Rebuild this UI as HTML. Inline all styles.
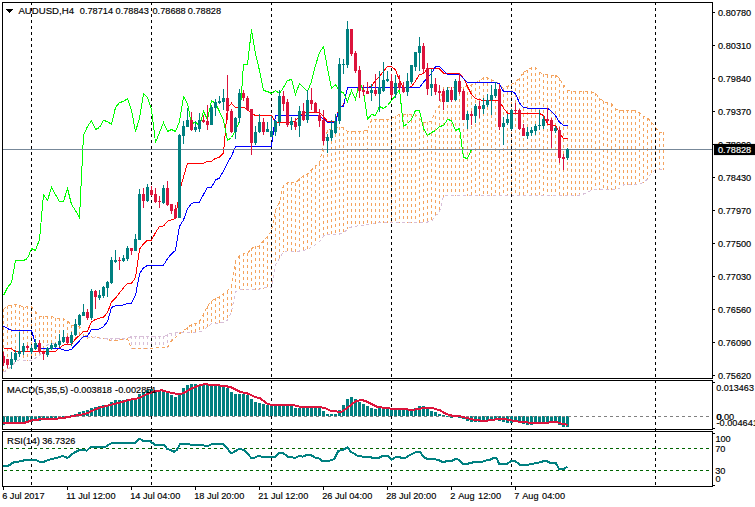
<!DOCTYPE html>
<html><head><meta charset="utf-8"><title>AUDUSD,H4</title>
<style>html,body{margin:0;padding:0;background:#fff;overflow:hidden}svg{display:block}</style>
</head><body>
<svg width="755" height="507" viewBox="0 0 755 507" shape-rendering="crispEdges">
<rect width="755" height="507" fill="#fff"/>
<defs><clipPath id="cm"><rect x="3" y="3" width="709" height="375"/></clipPath><clipPath id="c1"><rect x="3" y="381" width="709" height="48"/></clipPath><clipPath id="c2"><rect x="3" y="432" width="709" height="54"/></clipPath></defs>
<g id="cloud" clip-path="url(#cm)" fill="none" stroke-width="1">
<line x1="3.5" y1="309" x2="3.5" y2="373" stroke="#F4A460" stroke-dasharray="3 3"/>
<line x1="7.5" y1="306" x2="7.5" y2="371" stroke="#F4A460" stroke-dasharray="3 3"/>
<line x1="11.5" y1="305" x2="11.5" y2="367" stroke="#F4A460" stroke-dasharray="3 3"/>
<line x1="15.5" y1="304" x2="15.5" y2="363" stroke="#F4A460" stroke-dasharray="3 3"/>
<line x1="19.5" y1="305" x2="19.5" y2="360" stroke="#F4A460" stroke-dasharray="3 3"/>
<line x1="23.5" y1="307" x2="23.5" y2="361" stroke="#F4A460" stroke-dasharray="3 3"/>
<line x1="27.5" y1="306" x2="27.5" y2="361" stroke="#F4A460" stroke-dasharray="3 3"/>
<line x1="31.5" y1="306" x2="31.5" y2="361" stroke="#F4A460" stroke-dasharray="3 3"/>
<line x1="35.5" y1="311" x2="35.5" y2="359" stroke="#F4A460" stroke-dasharray="3 3"/>
<line x1="39.5" y1="316" x2="39.5" y2="356" stroke="#F4A460" stroke-dasharray="3 3"/>
<line x1="43.5" y1="316" x2="43.5" y2="351" stroke="#F4A460" stroke-dasharray="3 3"/>
<line x1="47.5" y1="316" x2="47.5" y2="346" stroke="#F4A460" stroke-dasharray="3 3"/>
<line x1="51.5" y1="316" x2="51.5" y2="345" stroke="#F4A460" stroke-dasharray="3 3"/>
<line x1="55.5" y1="318" x2="55.5" y2="344" stroke="#F4A460" stroke-dasharray="3 3"/>
<line x1="59.5" y1="318" x2="59.5" y2="342" stroke="#F4A460" stroke-dasharray="3 3"/>
<line x1="63.5" y1="318" x2="63.5" y2="339" stroke="#F4A460" stroke-dasharray="3 3"/>
<line x1="67.5" y1="321" x2="67.5" y2="338" stroke="#F4A460" stroke-dasharray="3 3"/>
<line x1="71.5" y1="325" x2="71.5" y2="338" stroke="#F4A460" stroke-dasharray="3 3"/>
<line x1="75.5" y1="325" x2="75.5" y2="338" stroke="#F4A460" stroke-dasharray="3 3"/>
<line x1="79.5" y1="326" x2="79.5" y2="338" stroke="#F4A460" stroke-dasharray="3 3"/>
<line x1="83.5" y1="334" x2="83.5" y2="338" stroke="#F4A460" stroke-dasharray="3 3"/>
<line x1="87.5" y1="336" x2="87.5" y2="339" stroke="#F4A460" stroke-dasharray="3 3"/>
<line x1="107.5" y1="338" x2="107.5" y2="340" stroke="#D8BFD8" stroke-dasharray="3 3"/>
<line x1="111.5" y1="338" x2="111.5" y2="341" stroke="#D8BFD8" stroke-dasharray="3 3"/>
<line x1="115.5" y1="338" x2="115.5" y2="341" stroke="#D8BFD8" stroke-dasharray="3 3"/>
<line x1="119.5" y1="338" x2="119.5" y2="340" stroke="#D8BFD8" stroke-dasharray="3 3"/>
<line x1="123.5" y1="338" x2="123.5" y2="340" stroke="#D8BFD8" stroke-dasharray="3 3"/>
<line x1="127.5" y1="338" x2="127.5" y2="340" stroke="#D8BFD8" stroke-dasharray="3 3"/>
<line x1="131.5" y1="336" x2="131.5" y2="349" stroke="#D8BFD8" stroke-dasharray="3 3"/>
<line x1="135.5" y1="336" x2="135.5" y2="349" stroke="#D8BFD8" stroke-dasharray="3 3"/>
<line x1="139.5" y1="336" x2="139.5" y2="349" stroke="#D8BFD8" stroke-dasharray="3 3"/>
<line x1="143.5" y1="336" x2="143.5" y2="349" stroke="#D8BFD8" stroke-dasharray="3 3"/>
<line x1="147.5" y1="336" x2="147.5" y2="349" stroke="#D8BFD8" stroke-dasharray="3 3"/>
<line x1="151.5" y1="336" x2="151.5" y2="349" stroke="#D8BFD8" stroke-dasharray="3 3"/>
<line x1="155.5" y1="336" x2="155.5" y2="348" stroke="#D8BFD8" stroke-dasharray="3 3"/>
<line x1="159.5" y1="336" x2="159.5" y2="348" stroke="#D8BFD8" stroke-dasharray="3 3"/>
<line x1="163.5" y1="336" x2="163.5" y2="348" stroke="#D8BFD8" stroke-dasharray="3 3"/>
<line x1="167.5" y1="334" x2="167.5" y2="348" stroke="#D8BFD8" stroke-dasharray="3 3"/>
<line x1="171.5" y1="333" x2="171.5" y2="341" stroke="#D8BFD8" stroke-dasharray="3 3"/>
<line x1="175.5" y1="333" x2="175.5" y2="338" stroke="#D8BFD8" stroke-dasharray="3 3"/>
<line x1="179.5" y1="332" x2="179.5" y2="334" stroke="#D8BFD8" stroke-dasharray="3 3"/>
<line x1="183.5" y1="331" x2="183.5" y2="333" stroke="#F4A460" stroke-dasharray="3 3"/>
<line x1="187.5" y1="327" x2="187.5" y2="333" stroke="#F4A460" stroke-dasharray="3 3"/>
<line x1="191.5" y1="324" x2="191.5" y2="333" stroke="#F4A460" stroke-dasharray="3 3"/>
<line x1="195.5" y1="323" x2="195.5" y2="333" stroke="#F4A460" stroke-dasharray="3 3"/>
<line x1="199.5" y1="321" x2="199.5" y2="333" stroke="#F4A460" stroke-dasharray="3 3"/>
<line x1="203.5" y1="314" x2="203.5" y2="331" stroke="#F4A460" stroke-dasharray="3 3"/>
<line x1="207.5" y1="306" x2="207.5" y2="327" stroke="#F4A460" stroke-dasharray="3 3"/>
<line x1="211.5" y1="301" x2="211.5" y2="324" stroke="#F4A460" stroke-dasharray="3 3"/>
<line x1="215.5" y1="298" x2="215.5" y2="324" stroke="#F4A460" stroke-dasharray="3 3"/>
<line x1="219.5" y1="296" x2="219.5" y2="324" stroke="#F4A460" stroke-dasharray="3 3"/>
<line x1="223.5" y1="293" x2="223.5" y2="323" stroke="#F4A460" stroke-dasharray="3 3"/>
<line x1="227.5" y1="291" x2="227.5" y2="321" stroke="#F4A460" stroke-dasharray="3 3"/>
<line x1="231.5" y1="285" x2="231.5" y2="313" stroke="#F4A460" stroke-dasharray="3 3"/>
<line x1="235.5" y1="261" x2="235.5" y2="292" stroke="#F4A460" stroke-dasharray="3 3"/>
<line x1="239.5" y1="256" x2="239.5" y2="291" stroke="#F4A460" stroke-dasharray="3 3"/>
<line x1="243.5" y1="253" x2="243.5" y2="290" stroke="#F4A460" stroke-dasharray="3 3"/>
<line x1="247.5" y1="253" x2="247.5" y2="290" stroke="#F4A460" stroke-dasharray="3 3"/>
<line x1="251.5" y1="248" x2="251.5" y2="290" stroke="#F4A460" stroke-dasharray="3 3"/>
<line x1="255.5" y1="246" x2="255.5" y2="290" stroke="#F4A460" stroke-dasharray="3 3"/>
<line x1="259.5" y1="246" x2="259.5" y2="290" stroke="#F4A460" stroke-dasharray="3 3"/>
<line x1="263.5" y1="240" x2="263.5" y2="289" stroke="#F4A460" stroke-dasharray="3 3"/>
<line x1="267.5" y1="236" x2="267.5" y2="288" stroke="#F4A460" stroke-dasharray="3 3"/>
<line x1="271.5" y1="231" x2="271.5" y2="288" stroke="#F4A460" stroke-dasharray="3 3"/>
<line x1="275.5" y1="210" x2="275.5" y2="266" stroke="#F4A460" stroke-dasharray="3 3"/>
<line x1="279.5" y1="201" x2="279.5" y2="259" stroke="#F4A460" stroke-dasharray="3 3"/>
<line x1="283.5" y1="185" x2="283.5" y2="252" stroke="#F4A460" stroke-dasharray="3 3"/>
<line x1="287.5" y1="182" x2="287.5" y2="252" stroke="#F4A460" stroke-dasharray="3 3"/>
<line x1="291.5" y1="182" x2="291.5" y2="252" stroke="#F4A460" stroke-dasharray="3 3"/>
<line x1="295.5" y1="183" x2="295.5" y2="252" stroke="#F4A460" stroke-dasharray="3 3"/>
<line x1="299.5" y1="178" x2="299.5" y2="252" stroke="#F4A460" stroke-dasharray="3 3"/>
<line x1="303.5" y1="175" x2="303.5" y2="251" stroke="#F4A460" stroke-dasharray="3 3"/>
<line x1="307.5" y1="174" x2="307.5" y2="250" stroke="#F4A460" stroke-dasharray="3 3"/>
<line x1="311.5" y1="170" x2="311.5" y2="248" stroke="#F4A460" stroke-dasharray="3 3"/>
<line x1="315.5" y1="166" x2="315.5" y2="245" stroke="#F4A460" stroke-dasharray="3 3"/>
<line x1="319.5" y1="163" x2="319.5" y2="242" stroke="#F4A460" stroke-dasharray="3 3"/>
<line x1="323.5" y1="143" x2="323.5" y2="237" stroke="#F4A460" stroke-dasharray="3 3"/>
<line x1="327.5" y1="130" x2="327.5" y2="235" stroke="#F4A460" stroke-dasharray="3 3"/>
<line x1="331.5" y1="129" x2="331.5" y2="235" stroke="#F4A460" stroke-dasharray="3 3"/>
<line x1="335.5" y1="128" x2="335.5" y2="235" stroke="#F4A460" stroke-dasharray="3 3"/>
<line x1="339.5" y1="127" x2="339.5" y2="235" stroke="#F4A460" stroke-dasharray="3 3"/>
<line x1="343.5" y1="127" x2="343.5" y2="234" stroke="#F4A460" stroke-dasharray="3 3"/>
<line x1="347.5" y1="131" x2="347.5" y2="229" stroke="#F4A460" stroke-dasharray="3 3"/>
<line x1="351.5" y1="131" x2="351.5" y2="228" stroke="#F4A460" stroke-dasharray="3 3"/>
<line x1="355.5" y1="131" x2="355.5" y2="227" stroke="#F4A460" stroke-dasharray="3 3"/>
<line x1="359.5" y1="131" x2="359.5" y2="226" stroke="#F4A460" stroke-dasharray="3 3"/>
<line x1="363.5" y1="131" x2="363.5" y2="226" stroke="#F4A460" stroke-dasharray="3 3"/>
<line x1="367.5" y1="130" x2="367.5" y2="225" stroke="#F4A460" stroke-dasharray="3 3"/>
<line x1="371.5" y1="119" x2="371.5" y2="225" stroke="#F4A460" stroke-dasharray="3 3"/>
<line x1="375.5" y1="119" x2="375.5" y2="224" stroke="#F4A460" stroke-dasharray="3 3"/>
<line x1="379.5" y1="119" x2="379.5" y2="223" stroke="#F4A460" stroke-dasharray="3 3"/>
<line x1="383.5" y1="119" x2="383.5" y2="223" stroke="#F4A460" stroke-dasharray="3 3"/>
<line x1="387.5" y1="119" x2="387.5" y2="223" stroke="#F4A460" stroke-dasharray="3 3"/>
<line x1="391.5" y1="118" x2="391.5" y2="223" stroke="#F4A460" stroke-dasharray="3 3"/>
<line x1="395.5" y1="116" x2="395.5" y2="223" stroke="#F4A460" stroke-dasharray="3 3"/>
<line x1="399.5" y1="114" x2="399.5" y2="223" stroke="#F4A460" stroke-dasharray="3 3"/>
<line x1="403.5" y1="114" x2="403.5" y2="223" stroke="#F4A460" stroke-dasharray="3 3"/>
<line x1="407.5" y1="114" x2="407.5" y2="223" stroke="#F4A460" stroke-dasharray="3 3"/>
<line x1="411.5" y1="114" x2="411.5" y2="223" stroke="#F4A460" stroke-dasharray="3 3"/>
<line x1="415.5" y1="114" x2="415.5" y2="223" stroke="#F4A460" stroke-dasharray="3 3"/>
<line x1="419.5" y1="118" x2="419.5" y2="223" stroke="#F4A460" stroke-dasharray="3 3"/>
<line x1="423.5" y1="123" x2="423.5" y2="223" stroke="#F4A460" stroke-dasharray="3 3"/>
<line x1="427.5" y1="122" x2="427.5" y2="223" stroke="#F4A460" stroke-dasharray="3 3"/>
<line x1="431.5" y1="121" x2="431.5" y2="222" stroke="#F4A460" stroke-dasharray="3 3"/>
<line x1="435.5" y1="110" x2="435.5" y2="216" stroke="#F4A460" stroke-dasharray="3 3"/>
<line x1="439.5" y1="105" x2="439.5" y2="213" stroke="#F4A460" stroke-dasharray="3 3"/>
<line x1="443.5" y1="87" x2="443.5" y2="197" stroke="#F4A460" stroke-dasharray="3 3"/>
<line x1="447.5" y1="87" x2="447.5" y2="196" stroke="#F4A460" stroke-dasharray="3 3"/>
<line x1="451.5" y1="87" x2="451.5" y2="196" stroke="#F4A460" stroke-dasharray="3 3"/>
<line x1="455.5" y1="87" x2="455.5" y2="196" stroke="#F4A460" stroke-dasharray="3 3"/>
<line x1="459.5" y1="87" x2="459.5" y2="196" stroke="#F4A460" stroke-dasharray="3 3"/>
<line x1="463.5" y1="87" x2="463.5" y2="196" stroke="#F4A460" stroke-dasharray="3 3"/>
<line x1="467.5" y1="86" x2="467.5" y2="196" stroke="#F4A460" stroke-dasharray="3 3"/>
<line x1="471.5" y1="84" x2="471.5" y2="196" stroke="#F4A460" stroke-dasharray="3 3"/>
<line x1="475.5" y1="82" x2="475.5" y2="196" stroke="#F4A460" stroke-dasharray="3 3"/>
<line x1="479.5" y1="80" x2="479.5" y2="196" stroke="#F4A460" stroke-dasharray="3 3"/>
<line x1="483.5" y1="77" x2="483.5" y2="196" stroke="#F4A460" stroke-dasharray="3 3"/>
<line x1="487.5" y1="77" x2="487.5" y2="196" stroke="#F4A460" stroke-dasharray="3 3"/>
<line x1="491.5" y1="79" x2="491.5" y2="196" stroke="#F4A460" stroke-dasharray="3 3"/>
<line x1="495.5" y1="82" x2="495.5" y2="196" stroke="#F4A460" stroke-dasharray="3 3"/>
<line x1="499.5" y1="84" x2="499.5" y2="196" stroke="#F4A460" stroke-dasharray="3 3"/>
<line x1="503.5" y1="88" x2="503.5" y2="196" stroke="#F4A460" stroke-dasharray="3 3"/>
<line x1="507.5" y1="86" x2="507.5" y2="196" stroke="#F4A460" stroke-dasharray="3 3"/>
<line x1="511.5" y1="84" x2="511.5" y2="196" stroke="#F4A460" stroke-dasharray="3 3"/>
<line x1="515.5" y1="82" x2="515.5" y2="196" stroke="#F4A460" stroke-dasharray="3 3"/>
<line x1="519.5" y1="78" x2="519.5" y2="196" stroke="#F4A460" stroke-dasharray="3 3"/>
<line x1="523.5" y1="72" x2="523.5" y2="196" stroke="#F4A460" stroke-dasharray="3 3"/>
<line x1="527.5" y1="70" x2="527.5" y2="196" stroke="#F4A460" stroke-dasharray="3 3"/>
<line x1="531.5" y1="67" x2="531.5" y2="196" stroke="#F4A460" stroke-dasharray="3 3"/>
<line x1="535.5" y1="67" x2="535.5" y2="196" stroke="#F4A460" stroke-dasharray="3 3"/>
<line x1="539.5" y1="72" x2="539.5" y2="196" stroke="#F4A460" stroke-dasharray="3 3"/>
<line x1="543.5" y1="74" x2="543.5" y2="196" stroke="#F4A460" stroke-dasharray="3 3"/>
<line x1="547.5" y1="75" x2="547.5" y2="196" stroke="#F4A460" stroke-dasharray="3 3"/>
<line x1="551.5" y1="75" x2="551.5" y2="196" stroke="#F4A460" stroke-dasharray="3 3"/>
<line x1="555.5" y1="75" x2="555.5" y2="196" stroke="#F4A460" stroke-dasharray="3 3"/>
<line x1="559.5" y1="78" x2="559.5" y2="196" stroke="#F4A460" stroke-dasharray="3 3"/>
<line x1="563.5" y1="85" x2="563.5" y2="196" stroke="#F4A460" stroke-dasharray="3 3"/>
<line x1="567.5" y1="90" x2="567.5" y2="196" stroke="#F4A460" stroke-dasharray="3 3"/>
<line x1="571.5" y1="91" x2="571.5" y2="196" stroke="#F4A460" stroke-dasharray="3 3"/>
<line x1="575.5" y1="91" x2="575.5" y2="196" stroke="#F4A460" stroke-dasharray="3 3"/>
<line x1="579.5" y1="91" x2="579.5" y2="196" stroke="#F4A460" stroke-dasharray="3 3"/>
<line x1="583.5" y1="91" x2="583.5" y2="195" stroke="#F4A460" stroke-dasharray="3 3"/>
<line x1="587.5" y1="91" x2="587.5" y2="193" stroke="#F4A460" stroke-dasharray="3 3"/>
<line x1="591.5" y1="91" x2="591.5" y2="191" stroke="#F4A460" stroke-dasharray="3 3"/>
<line x1="595.5" y1="93" x2="595.5" y2="190" stroke="#F4A460" stroke-dasharray="3 3"/>
<line x1="599.5" y1="98" x2="599.5" y2="190" stroke="#F4A460" stroke-dasharray="3 3"/>
<line x1="603.5" y1="101" x2="603.5" y2="190" stroke="#F4A460" stroke-dasharray="3 3"/>
<line x1="607.5" y1="102" x2="607.5" y2="190" stroke="#F4A460" stroke-dasharray="3 3"/>
<line x1="611.5" y1="104" x2="611.5" y2="190" stroke="#F4A460" stroke-dasharray="3 3"/>
<line x1="615.5" y1="108" x2="615.5" y2="190" stroke="#F4A460" stroke-dasharray="3 3"/>
<line x1="619.5" y1="110" x2="619.5" y2="189" stroke="#F4A460" stroke-dasharray="3 3"/>
<line x1="623.5" y1="110" x2="623.5" y2="186" stroke="#F4A460" stroke-dasharray="3 3"/>
<line x1="627.5" y1="110" x2="627.5" y2="185" stroke="#F4A460" stroke-dasharray="3 3"/>
<line x1="631.5" y1="110" x2="631.5" y2="185" stroke="#F4A460" stroke-dasharray="3 3"/>
<line x1="635.5" y1="110" x2="635.5" y2="185" stroke="#F4A460" stroke-dasharray="3 3"/>
<line x1="639.5" y1="113" x2="639.5" y2="185" stroke="#F4A460" stroke-dasharray="3 3"/>
<line x1="643.5" y1="116" x2="643.5" y2="183" stroke="#F4A460" stroke-dasharray="3 3"/>
<line x1="647.5" y1="118" x2="647.5" y2="180" stroke="#F4A460" stroke-dasharray="3 3"/>
<line x1="651.5" y1="122" x2="651.5" y2="174" stroke="#F4A460" stroke-dasharray="3 3"/>
<line x1="655.5" y1="127" x2="655.5" y2="171" stroke="#F4A460" stroke-dasharray="3 3"/>
<line x1="659.5" y1="132" x2="659.5" y2="170" stroke="#F4A460" stroke-dasharray="3 3"/>
<line x1="663.5" y1="132" x2="663.5" y2="170" stroke="#F4A460" stroke-dasharray="3 3"/>
<polyline points="3.5,309.3 7.5,306.0 11.5,305.2 15.5,304.3 19.5,305.0 23.5,307.3 27.5,306.8 31.5,306.8 35.5,311.8 39.5,316.0 43.5,316.3 47.5,316.3 51.5,316.3 55.5,318.5 59.5,318.5 63.5,318.7 67.5,321.0 71.5,325.0 75.5,325.7 79.5,326.3 83.5,334.0 87.5,336.5 91.5,337.0 95.5,337.3 99.5,338.0 103.5,338.3 107.5,339.5 111.5,340.5 115.5,340.5 119.5,339.5 123.5,339.2 127.5,339.0 131.5,348.3 135.5,348.7 139.5,348.7 143.5,348.7 147.5,348.7 151.5,348.7 155.5,347.5 159.5,347.5 163.5,347.5 167.5,347.5 171.5,340.8 175.5,337.5 179.5,333.7 183.5,331.0 187.5,327.5 191.5,324.7 195.5,323.7 199.5,321.5 203.5,314.5 207.5,306.0 211.5,301.0 215.5,298.5 219.5,296.8 223.5,293.5 227.5,291.0 231.5,285.0 235.5,261.0 239.5,256.0 243.5,253.5 247.5,253.5 251.5,248.5 255.5,246.3 259.5,246.3 263.5,240.2 267.5,236.8 271.5,231.0 275.5,210.0 279.5,201.7 283.5,185.2 287.5,182.9 291.5,182.4 295.5,183.3 299.5,178.9 303.5,175.7 307.5,174.0 311.5,170.0 315.5,166.1 319.5,163.6 323.5,143.0 327.5,130.0 331.5,129.0 335.5,128.2 339.5,127.3 343.5,127.5 347.5,131.3 351.5,131.3 355.5,131.3 359.5,131.3 363.5,131.2 367.5,130.3 371.5,119.5 375.5,119.5 379.5,119.5 383.5,119.5 387.5,119.5 391.5,118.0 395.5,116.5 399.5,114.4 403.5,114.4 407.5,114.4 411.5,114.4 415.5,114.4 419.5,118.5 423.5,123.0 427.5,122.0 431.5,121.3 435.5,110.7 439.5,105.7 443.5,87.4 447.5,87.4 451.5,87.4 455.5,87.4 459.5,87.4 463.5,87.4 467.5,86.5 471.5,84.7 475.5,82.8 479.5,80.9 483.5,77.8 487.5,77.8 491.5,79.8 495.5,82.0 499.5,84.0 503.5,88.4 507.5,86.5 511.5,84.5 515.5,82.0 519.5,78.0 523.5,72.5 527.5,70.3 531.5,67.7 535.5,67.5 539.5,72.0 543.5,74.5 547.5,75.0 551.5,75.0 555.5,75.0 559.5,78.5 563.5,85.0 567.5,90.0 571.5,91.0 575.5,91.8 579.5,91.8 583.5,91.8 587.5,91.8 591.5,91.8 595.5,93.5 599.5,98.0 603.5,101.5 607.5,102.7 611.5,104.0 615.5,108.6 619.5,110.7 623.5,110.7 627.5,110.7 631.5,110.7 635.5,110.7 639.5,113.0 643.5,116.5 647.5,118.0 651.5,122.0 655.5,127.5 659.5,132.5 663.5,132.7" stroke="#F4A460" stroke-width="1" stroke-dasharray="3 3" fill="none"/>
<polyline points="3.5,372.0 7.5,370.0 11.5,366.0 15.5,362.0 19.5,359.5 23.5,360.5 27.5,360.5 31.5,360.5 35.5,358.0 39.5,355.0 43.5,350.0 47.5,345.0 51.5,344.0 55.5,343.0 59.5,341.0 63.5,338.2 67.5,337.5 71.5,337.3 75.5,337.0 79.5,337.0 83.5,337.5 87.5,338.0 91.5,337.5 95.5,337.0 99.5,338.0 103.5,338.0 107.5,338.5 111.5,338.7 115.5,338.7 119.5,338.3 123.5,338.0 127.5,338.0 131.5,336.7 135.5,336.7 139.5,336.7 143.5,336.7 147.5,336.7 151.5,336.7 155.5,336.7 159.5,336.7 163.5,336.7 167.5,334.5 171.5,333.5 175.5,333.0 179.5,332.7 183.5,332.7 187.5,332.7 191.5,332.7 195.5,332.3 199.5,332.0 203.5,330.5 207.5,326.5 211.5,323.8 215.5,323.0 219.5,323.0 223.5,322.0 227.5,320.0 231.5,312.0 235.5,291.5 239.5,290.0 243.5,289.3 247.5,289.3 251.5,289.3 255.5,289.3 259.5,289.3 263.5,288.0 267.5,287.8 271.5,287.5 275.5,265.0 279.5,258.0 283.5,251.5 287.5,251.0 291.5,251.0 295.5,251.0 299.5,251.0 303.5,250.3 307.5,249.3 311.5,247.0 315.5,244.5 319.5,241.5 323.5,236.0 327.5,234.5 331.5,234.0 335.5,234.0 339.5,234.0 343.5,233.5 347.5,228.5 351.5,227.0 355.5,226.2 359.5,225.7 363.5,225.2 367.5,224.8 371.5,224.3 375.5,223.3 379.5,222.5 383.5,222.2 387.5,222.2 391.5,222.2 395.5,222.2 399.5,222.2 403.5,222.2 407.5,222.2 411.5,222.2 415.5,222.2 419.5,222.2 423.5,222.0 427.5,222.0 431.5,221.5 435.5,215.5 439.5,212.5 443.5,196.0 447.5,195.0 451.5,195.0 455.5,195.0 459.5,195.0 463.5,195.0 467.5,195.0 471.5,195.0 475.5,195.0 479.5,195.0 483.5,195.0 487.5,195.0 491.5,195.0 495.5,195.0 499.5,195.0 503.5,195.0 507.5,195.0 511.5,195.0 515.5,195.0 519.5,195.0 523.5,195.0 527.5,195.0 531.5,195.0 535.5,195.0 539.5,195.0 543.5,195.0 547.5,195.0 551.5,195.0 555.5,195.0 559.5,195.0 563.5,195.0 567.5,195.0 571.5,195.0 575.5,195.0 579.5,195.0 583.5,194.0 587.5,192.3 591.5,190.2 595.5,189.8 599.5,189.8 603.5,189.8 607.5,189.8 611.5,189.8 615.5,189.8 619.5,188.2 623.5,185.0 627.5,184.0 631.5,184.0 635.5,184.0 639.5,184.0 643.5,182.5 647.5,179.0 651.5,173.0 655.5,170.0 659.5,169.5 663.5,169.3" stroke="#D8BFD8" stroke-width="1" stroke-dasharray="3 3" fill="none"/>
</g>
<g id="seps">
<line x1="31.5" y1="2" x2="31.5" y2="486" stroke="#000" stroke-width="1" stroke-dasharray="3 3"/>
<line x1="151.5" y1="2" x2="151.5" y2="486" stroke="#000" stroke-width="1" stroke-dasharray="3 3"/>
<line x1="271.5" y1="2" x2="271.5" y2="486" stroke="#000" stroke-width="1" stroke-dasharray="3 3"/>
<line x1="391.5" y1="2" x2="391.5" y2="486" stroke="#000" stroke-width="1" stroke-dasharray="3 3"/>
<line x1="511.5" y1="2" x2="511.5" y2="486" stroke="#000" stroke-width="1" stroke-dasharray="3 3"/>
<line x1="655.5" y1="2" x2="655.5" y2="486" stroke="#000" stroke-width="1" stroke-dasharray="3 3"/>
</g>
<g id="lines" clip-path="url(#cm)">
<polyline points="3.5,348.4 7.5,348.4 11.5,348.4 15.5,352.0 19.5,351.3 23.5,351.3 27.5,351.3 31.5,351.3 35.5,351.3 39.5,351.3 43.5,351.3 47.5,351.3 51.5,351.3 55.5,351.3 59.5,347.8 63.5,345.2 67.5,344.2 71.5,344.2 75.5,338.9 79.5,335.3 83.5,331.8 87.5,331.0 91.5,322.0 95.5,319.3 99.5,318.3 103.5,317.0 107.5,312.6 111.5,301.8 115.5,298.0 119.5,292.9 123.5,287.8 127.5,283.4 131.5,283.4 135.5,277.6 139.5,249.2 143.5,244.0 147.5,240.0 151.5,240.0 155.5,232.7 159.5,226.3 163.5,226.0 167.5,221.3 171.5,219.7 175.5,218.5 179.5,192.0 183.5,176.7 187.5,163.4 191.5,163.4 195.5,163.4 199.5,163.4 203.5,163.1 207.5,161.3 211.5,161.2 215.5,158.4 219.5,157.0 223.5,152.9 227.5,107.5 231.5,103.2 235.5,107.4 239.5,107.4 243.5,107.4 247.5,109.5 251.5,113.3 255.5,115.5 259.5,115.5 263.5,115.5 267.5,115.5 271.5,115.5 275.5,122.2 279.5,122.5 283.5,122.5 287.5,122.5 291.5,122.5 295.5,120.6 299.5,116.5 303.5,113.0 307.5,112.7 311.5,112.4 315.5,112.4 319.5,112.7 323.5,116.5 327.5,121.5 331.5,121.5 335.5,121.5 339.5,107.0 343.5,105.5 347.5,87.5 351.5,87.5 355.5,87.5 359.5,87.5 363.5,87.5 367.5,87.5 371.5,86.3 375.5,80.5 379.5,76.7 383.5,71.0 387.5,66.6 391.5,66.6 395.5,69.7 399.5,80.5 403.5,87.5 407.5,87.3 411.5,86.8 415.5,81.0 419.5,74.2 423.5,73.9 427.5,68.1 431.5,68.1 435.5,68.1 439.5,68.8 443.5,73.2 447.5,73.5 451.5,73.5 455.5,73.5 459.5,73.5 463.5,78.3 467.5,86.4 471.5,94.6 475.5,98.5 479.5,99.7 483.5,100.4 487.5,100.4 491.5,100.4 495.5,100.4 499.5,101.0 503.5,108.1 507.5,113.2 511.5,113.5 515.5,113.5 519.5,113.5 523.5,113.5 527.5,113.5 531.5,113.5 535.5,113.5 539.5,113.5 543.5,115.5 547.5,124.0 551.5,124.8 555.5,125.5 559.5,133.0 563.5,138.4 567.5,138.4" stroke="#FF0000" stroke-width="1" fill="none"/>
<polyline points="3.5,326.2 7.5,328.5 11.5,330.4 15.5,330.4 19.5,330.4 23.5,330.4 27.5,330.4 31.5,330.4 35.5,344.0 39.5,348.4 43.5,348.4 47.5,348.4 51.5,348.4 55.5,348.4 59.5,348.4 63.5,350.0 67.5,350.3 71.5,349.3 75.5,345.0 79.5,340.8 83.5,336.3 87.5,336.1 91.5,329.4 95.5,329.5 99.5,329.0 103.5,326.6 107.5,321.5 111.5,307.5 115.5,305.6 119.5,305.3 123.5,305.0 127.5,303.4 131.5,303.3 135.5,295.4 139.5,274.0 143.5,267.7 147.5,265.5 151.5,265.1 155.5,265.1 159.5,265.1 163.5,265.1 167.5,258.8 171.5,253.7 175.5,250.5 179.5,226.3 183.5,220.0 187.5,208.8 191.5,203.4 195.5,202.1 199.5,202.1 203.5,194.5 207.5,187.5 211.5,187.3 215.5,180.0 219.5,178.0 223.5,171.0 227.5,163.0 231.5,156.0 235.5,146.6 239.5,146.6 243.5,146.6 247.5,146.6 251.5,146.6 255.5,146.6 259.5,146.6 263.5,146.6 267.5,146.6 271.5,146.2 275.5,115.7 279.5,115.7 283.5,115.7 287.5,115.7 291.5,115.7 295.5,115.7 299.5,115.7 303.5,115.7 307.5,115.7 311.5,115.7 315.5,115.7 319.5,115.7 323.5,119.0 327.5,122.5 331.5,122.5 335.5,122.5 339.5,107.0 343.5,106.0 347.5,87.5 351.5,87.5 355.5,87.5 359.5,87.5 363.5,87.5 367.5,87.5 371.5,87.5 375.5,87.5 379.5,87.5 383.5,87.5 387.5,87.5 391.5,87.5 395.5,87.5 399.5,87.5 403.5,87.5 407.5,87.5 411.5,87.5 415.5,87.5 419.5,87.5 423.5,82.1 427.5,77.7 431.5,73.2 435.5,66.6 439.5,66.6 443.5,70.7 447.5,74.2 451.5,74.2 455.5,74.2 459.5,74.2 463.5,78.3 467.5,82.3 471.5,82.3 475.5,82.3 479.5,82.3 483.5,82.3 487.5,82.3 491.5,82.3 495.5,82.3 499.5,84.0 503.5,91.4 507.5,91.4 511.5,91.4 515.5,93.5 519.5,103.0 523.5,107.5 527.5,108.1 531.5,108.1 535.5,108.1 539.5,108.1 543.5,108.1 547.5,108.1 551.5,111.3 555.5,115.8 559.5,122.2 563.5,125.4 567.5,125.4" stroke="#0000FF" stroke-width="1" fill="none"/>
<polyline points="3.5,295.5 7.5,287.5 11.5,282.5 15.5,260.5 19.5,260.5 23.5,260.5 27.5,258.5 31.5,248.5 35.5,250.5 39.5,239.5 43.5,194.5 47.5,200.5 51.5,187.5 55.5,194.5 59.5,201.5 63.5,201.5 67.5,188.5 71.5,204.5 75.5,210.5 79.5,217.5 83.5,135.5 87.5,126.5 91.5,120.5 95.5,129.5 99.5,127.5 103.5,120.5 107.5,121.5 111.5,124.5 115.5,107.5 119.5,102.5 123.5,101.5 127.5,98.5 131.5,110.5 135.5,131.5 139.5,118.5 143.5,93.5 147.5,97.5 151.5,109.5 155.5,142.5 159.5,132.5 163.5,122.5 167.5,131.5 171.5,129.5 175.5,131.5 179.5,121.5 183.5,96.5 187.5,103.5 191.5,124.5 195.5,121.5 199.5,126.5 203.5,111.5 207.5,119.5 211.5,100.5 215.5,103.5 219.5,111.5 223.5,120.5 227.5,140.5 231.5,137.5 235.5,130.5 239.5,121.5 243.5,64.5 247.5,64.5 251.5,29.5 255.5,53.5 259.5,70.5 263.5,90.5 267.5,91.5 271.5,93.5 275.5,90.5 279.5,93.5 283.5,87.5 287.5,80.5 291.5,79.5 295.5,94.5 299.5,83.5 303.5,87.5 307.5,91.5 311.5,81.5 315.5,65.5 319.5,52.5 323.5,46.5 327.5,68.5 331.5,88.5 335.5,84.5 339.5,91.5 343.5,92.5 347.5,101.5 351.5,90.5 355.5,99.5 359.5,81.5 363.5,91.5 367.5,119.5 371.5,114.5 375.5,115.5 379.5,106.5 383.5,108.5 387.5,105.5 391.5,100.5 395.5,95.5 399.5,89.5 403.5,126.5 407.5,123.5 411.5,119.5 415.5,110.5 419.5,110.5 423.5,128.5 427.5,135.5 431.5,132.5 435.5,130.5 439.5,126.5 443.5,125.5 447.5,119.5 451.5,120.5 455.5,130.5 459.5,128.5 463.5,157.5 467.5,158.5 471.5,149.5" stroke="#00FF00" stroke-width="1" fill="none"/>
</g>
<rect x="3" y="149" width="709" height="1" fill="#778899"/>
<g id="candles" clip-path="url(#cm)">
<rect x="3" y="352" width="1" height="14" fill="#DC143C"/>
<rect x="2" y="356" width="3" height="7" fill="#DC143C"/>
<rect x="7" y="359" width="1" height="9" fill="#DC143C"/>
<rect x="6" y="359" width="3" height="6" fill="#DC143C"/>
<rect x="11" y="352" width="1" height="17" fill="#008080"/>
<rect x="10" y="359" width="3" height="6" fill="#008080"/>
<rect x="15" y="350" width="1" height="12" fill="#008080"/>
<rect x="14" y="353" width="3" height="7" fill="#008080"/>
<rect x="19" y="332" width="1" height="25" fill="#008080"/>
<rect x="18" y="351" width="3" height="3" fill="#008080"/>
<rect x="23" y="343" width="1" height="12" fill="#008080"/>
<rect x="22" y="346" width="3" height="6" fill="#008080"/>
<rect x="27" y="345" width="1" height="5" fill="#DC143C"/>
<rect x="26" y="346" width="3" height="2" fill="#DC143C"/>
<rect x="31" y="345" width="1" height="9" fill="#008080"/>
<rect x="30" y="348" width="3" height="4" fill="#008080"/>
<rect x="35" y="339" width="1" height="11" fill="#008080"/>
<rect x="34" y="343" width="3" height="6" fill="#008080"/>
<rect x="39" y="340" width="1" height="13" fill="#DC143C"/>
<rect x="38" y="343" width="3" height="9" fill="#DC143C"/>
<rect x="43" y="352" width="1" height="8" fill="#DC143C"/>
<rect x="42" y="352" width="3" height="2" fill="#DC143C"/>
<rect x="47" y="347" width="1" height="10" fill="#008080"/>
<rect x="46" y="348" width="3" height="7" fill="#008080"/>
<rect x="51" y="343" width="1" height="7" fill="#008080"/>
<rect x="50" y="345" width="3" height="4" fill="#008080"/>
<rect x="55" y="343" width="1" height="5" fill="#008080"/>
<rect x="54" y="344" width="3" height="3" fill="#008080"/>
<rect x="59" y="334" width="1" height="13" fill="#008080"/>
<rect x="58" y="341" width="3" height="4" fill="#008080"/>
<rect x="63" y="330" width="1" height="13" fill="#008080"/>
<rect x="62" y="337" width="3" height="5" fill="#008080"/>
<rect x="67" y="336" width="1" height="9" fill="#DC143C"/>
<rect x="66" y="337" width="3" height="6" fill="#DC143C"/>
<rect x="71" y="332" width="1" height="14" fill="#008080"/>
<rect x="70" y="335" width="3" height="8" fill="#008080"/>
<rect x="75" y="319" width="1" height="17" fill="#008080"/>
<rect x="74" y="324" width="3" height="11" fill="#008080"/>
<rect x="79" y="314" width="1" height="12" fill="#008080"/>
<rect x="78" y="315" width="3" height="10" fill="#008080"/>
<rect x="83" y="304" width="1" height="12" fill="#008080"/>
<rect x="82" y="312" width="3" height="4" fill="#008080"/>
<rect x="87" y="309" width="1" height="11" fill="#DC143C"/>
<rect x="86" y="312" width="3" height="6" fill="#DC143C"/>
<rect x="91" y="289" width="1" height="31" fill="#008080"/>
<rect x="90" y="291" width="3" height="27" fill="#008080"/>
<rect x="95" y="290" width="1" height="19" fill="#DC143C"/>
<rect x="94" y="291" width="3" height="6" fill="#DC143C"/>
<rect x="99" y="290" width="1" height="10" fill="#008080"/>
<rect x="98" y="295" width="3" height="3" fill="#008080"/>
<rect x="103" y="286" width="1" height="12" fill="#008080"/>
<rect x="102" y="287" width="3" height="9" fill="#008080"/>
<rect x="107" y="281" width="1" height="16" fill="#008080"/>
<rect x="106" y="282" width="3" height="6" fill="#008080"/>
<rect x="111" y="257" width="1" height="27" fill="#008080"/>
<rect x="110" y="260" width="3" height="23" fill="#008080"/>
<rect x="115" y="250" width="1" height="13" fill="#008080"/>
<rect x="114" y="260" width="3" height="2" fill="#008080"/>
<rect x="119" y="257" width="1" height="13" fill="#DC143C"/>
<rect x="118" y="260" width="3" height="1" fill="#DC143C"/>
<rect x="123" y="255" width="1" height="7" fill="#008080"/>
<rect x="122" y="258" width="3" height="3" fill="#008080"/>
<rect x="127" y="246" width="1" height="15" fill="#008080"/>
<rect x="126" y="248" width="3" height="11" fill="#008080"/>
<rect x="131" y="248" width="1" height="7" fill="#DC143C"/>
<rect x="130" y="248" width="3" height="3" fill="#DC143C"/>
<rect x="135" y="234" width="1" height="17" fill="#008080"/>
<rect x="134" y="239" width="3" height="12" fill="#008080"/>
<rect x="139" y="189" width="1" height="51" fill="#008080"/>
<rect x="138" y="194" width="3" height="46" fill="#008080"/>
<rect x="143" y="188" width="1" height="20" fill="#DC143C"/>
<rect x="142" y="194" width="3" height="7" fill="#DC143C"/>
<rect x="147" y="184" width="1" height="18" fill="#008080"/>
<rect x="146" y="187" width="3" height="14" fill="#008080"/>
<rect x="151" y="186" width="1" height="10" fill="#DC143C"/>
<rect x="150" y="190" width="3" height="5" fill="#DC143C"/>
<rect x="155" y="188" width="1" height="15" fill="#DC143C"/>
<rect x="154" y="194" width="3" height="8" fill="#DC143C"/>
<rect x="159" y="196" width="1" height="12" fill="#DC143C"/>
<rect x="158" y="201" width="3" height="1" fill="#DC143C"/>
<rect x="163" y="185" width="1" height="19" fill="#008080"/>
<rect x="162" y="188" width="3" height="15" fill="#008080"/>
<rect x="167" y="181" width="1" height="25" fill="#DC143C"/>
<rect x="166" y="188" width="3" height="17" fill="#DC143C"/>
<rect x="171" y="204" width="1" height="10" fill="#DC143C"/>
<rect x="170" y="204" width="3" height="7" fill="#DC143C"/>
<rect x="175" y="205" width="1" height="14" fill="#DC143C"/>
<rect x="174" y="209" width="3" height="9" fill="#DC143C"/>
<rect x="179" y="134" width="1" height="84" fill="#008080"/>
<rect x="178" y="135" width="3" height="83" fill="#008080"/>
<rect x="183" y="121" width="1" height="23" fill="#008080"/>
<rect x="182" y="126" width="3" height="10" fill="#008080"/>
<rect x="187" y="108" width="1" height="19" fill="#008080"/>
<rect x="186" y="120" width="3" height="7" fill="#008080"/>
<rect x="191" y="112" width="1" height="19" fill="#DC143C"/>
<rect x="190" y="120" width="3" height="10" fill="#DC143C"/>
<rect x="195" y="121" width="1" height="11" fill="#008080"/>
<rect x="194" y="127" width="3" height="3" fill="#008080"/>
<rect x="199" y="113" width="1" height="19" fill="#008080"/>
<rect x="198" y="120" width="3" height="9" fill="#008080"/>
<rect x="203" y="115" width="1" height="8" fill="#DC143C"/>
<rect x="202" y="120" width="3" height="2" fill="#DC143C"/>
<rect x="207" y="105" width="1" height="25" fill="#DC143C"/>
<rect x="206" y="121" width="3" height="4" fill="#DC143C"/>
<rect x="211" y="105" width="1" height="20" fill="#008080"/>
<rect x="210" y="107" width="3" height="18" fill="#008080"/>
<rect x="215" y="99" width="1" height="17" fill="#008080"/>
<rect x="214" y="102" width="3" height="6" fill="#008080"/>
<rect x="219" y="96" width="1" height="8" fill="#008080"/>
<rect x="218" y="101" width="3" height="2" fill="#008080"/>
<rect x="223" y="89" width="1" height="21" fill="#008080"/>
<rect x="222" y="98" width="3" height="4" fill="#008080"/>
<rect x="227" y="75" width="1" height="45" fill="#DC143C"/>
<rect x="226" y="98" width="3" height="13" fill="#DC143C"/>
<rect x="231" y="109" width="1" height="24" fill="#DC143C"/>
<rect x="230" y="111" width="3" height="21" fill="#DC143C"/>
<rect x="235" y="117" width="1" height="22" fill="#008080"/>
<rect x="234" y="118" width="3" height="14" fill="#008080"/>
<rect x="239" y="89" width="1" height="34" fill="#008080"/>
<rect x="238" y="93" width="3" height="25" fill="#008080"/>
<rect x="243" y="90" width="1" height="11" fill="#DC143C"/>
<rect x="242" y="93" width="3" height="5" fill="#DC143C"/>
<rect x="247" y="96" width="1" height="15" fill="#DC143C"/>
<rect x="246" y="98" width="3" height="12" fill="#DC143C"/>
<rect x="251" y="109" width="1" height="46" fill="#DC143C"/>
<rect x="250" y="109" width="3" height="34" fill="#DC143C"/>
<rect x="255" y="126" width="1" height="19" fill="#008080"/>
<rect x="254" y="132" width="3" height="11" fill="#008080"/>
<rect x="259" y="114" width="1" height="19" fill="#008080"/>
<rect x="258" y="122" width="3" height="10" fill="#008080"/>
<rect x="263" y="118" width="1" height="17" fill="#DC143C"/>
<rect x="262" y="122" width="3" height="10" fill="#DC143C"/>
<rect x="267" y="122" width="1" height="10" fill="#008080"/>
<rect x="266" y="129" width="3" height="3" fill="#008080"/>
<rect x="271" y="116" width="1" height="21" fill="#008080"/>
<rect x="270" y="131" width="3" height="6" fill="#008080"/>
<rect x="275" y="120" width="1" height="16" fill="#008080"/>
<rect x="274" y="121" width="3" height="11" fill="#008080"/>
<rect x="279" y="90" width="1" height="36" fill="#008080"/>
<rect x="278" y="96" width="3" height="26" fill="#008080"/>
<rect x="283" y="91" width="1" height="20" fill="#DC143C"/>
<rect x="282" y="96" width="3" height="8" fill="#DC143C"/>
<rect x="287" y="99" width="1" height="28" fill="#DC143C"/>
<rect x="286" y="102" width="3" height="23" fill="#DC143C"/>
<rect x="291" y="117" width="1" height="13" fill="#008080"/>
<rect x="290" y="121" width="3" height="4" fill="#008080"/>
<rect x="295" y="118" width="1" height="12" fill="#DC143C"/>
<rect x="294" y="122" width="3" height="5" fill="#DC143C"/>
<rect x="299" y="106" width="1" height="31" fill="#008080"/>
<rect x="298" y="111" width="3" height="15" fill="#008080"/>
<rect x="303" y="103" width="1" height="18" fill="#DC143C"/>
<rect x="302" y="111" width="3" height="9" fill="#DC143C"/>
<rect x="307" y="90" width="1" height="33" fill="#008080"/>
<rect x="306" y="100" width="3" height="20" fill="#008080"/>
<rect x="311" y="88" width="1" height="22" fill="#DC143C"/>
<rect x="310" y="100" width="3" height="4" fill="#DC143C"/>
<rect x="315" y="102" width="1" height="11" fill="#DC143C"/>
<rect x="314" y="103" width="3" height="9" fill="#DC143C"/>
<rect x="319" y="109" width="1" height="18" fill="#DC143C"/>
<rect x="318" y="115" width="3" height="6" fill="#DC143C"/>
<rect x="323" y="110" width="1" height="35" fill="#DC143C"/>
<rect x="322" y="120" width="3" height="21" fill="#DC143C"/>
<rect x="327" y="134" width="1" height="19" fill="#008080"/>
<rect x="326" y="137" width="3" height="4" fill="#008080"/>
<rect x="331" y="120" width="1" height="21" fill="#008080"/>
<rect x="330" y="130" width="3" height="8" fill="#008080"/>
<rect x="335" y="114" width="1" height="20" fill="#008080"/>
<rect x="334" y="121" width="3" height="12" fill="#008080"/>
<rect x="339" y="58" width="1" height="66" fill="#008080"/>
<rect x="338" y="64" width="3" height="57" fill="#008080"/>
<rect x="343" y="59" width="1" height="15" fill="#008080"/>
<rect x="342" y="64" width="3" height="1" fill="#008080"/>
<rect x="347" y="21" width="1" height="47" fill="#008080"/>
<rect x="346" y="29" width="3" height="36" fill="#008080"/>
<rect x="351" y="29" width="1" height="27" fill="#DC143C"/>
<rect x="350" y="29" width="3" height="25" fill="#DC143C"/>
<rect x="355" y="51" width="1" height="22" fill="#DC143C"/>
<rect x="354" y="53" width="3" height="18" fill="#DC143C"/>
<rect x="359" y="66" width="1" height="32" fill="#DC143C"/>
<rect x="358" y="70" width="3" height="21" fill="#DC143C"/>
<rect x="363" y="85" width="1" height="11" fill="#DC143C"/>
<rect x="362" y="90" width="3" height="2" fill="#DC143C"/>
<rect x="367" y="82" width="1" height="12" fill="#DC143C"/>
<rect x="366" y="91" width="3" height="3" fill="#DC143C"/>
<rect x="371" y="84" width="1" height="17" fill="#008080"/>
<rect x="370" y="90" width="3" height="3" fill="#008080"/>
<rect x="375" y="74" width="1" height="22" fill="#DC143C"/>
<rect x="374" y="90" width="3" height="4" fill="#DC143C"/>
<rect x="379" y="71" width="1" height="41" fill="#008080"/>
<rect x="378" y="87" width="3" height="7" fill="#008080"/>
<rect x="383" y="62" width="1" height="30" fill="#008080"/>
<rect x="382" y="80" width="3" height="11" fill="#008080"/>
<rect x="387" y="71" width="1" height="11" fill="#008080"/>
<rect x="386" y="79" width="3" height="2" fill="#008080"/>
<rect x="391" y="74" width="1" height="24" fill="#DC143C"/>
<rect x="390" y="81" width="3" height="14" fill="#DC143C"/>
<rect x="395" y="75" width="1" height="23" fill="#008080"/>
<rect x="394" y="83" width="3" height="11" fill="#008080"/>
<rect x="399" y="75" width="1" height="15" fill="#DC143C"/>
<rect x="398" y="83" width="3" height="5" fill="#DC143C"/>
<rect x="403" y="82" width="1" height="11" fill="#DC143C"/>
<rect x="402" y="87" width="3" height="5" fill="#DC143C"/>
<rect x="407" y="73" width="1" height="23" fill="#008080"/>
<rect x="406" y="81" width="3" height="11" fill="#008080"/>
<rect x="411" y="65" width="1" height="19" fill="#008080"/>
<rect x="410" y="65" width="3" height="17" fill="#008080"/>
<rect x="415" y="52" width="1" height="19" fill="#008080"/>
<rect x="414" y="52" width="3" height="15" fill="#008080"/>
<rect x="419" y="37" width="1" height="34" fill="#008080"/>
<rect x="418" y="46" width="3" height="7" fill="#008080"/>
<rect x="423" y="43" width="1" height="30" fill="#DC143C"/>
<rect x="422" y="46" width="3" height="23" fill="#DC143C"/>
<rect x="427" y="63" width="1" height="32" fill="#DC143C"/>
<rect x="426" y="68" width="3" height="21" fill="#DC143C"/>
<rect x="431" y="69" width="1" height="27" fill="#008080"/>
<rect x="430" y="84" width="3" height="4" fill="#008080"/>
<rect x="435" y="78" width="1" height="17" fill="#DC143C"/>
<rect x="434" y="84" width="3" height="8" fill="#DC143C"/>
<rect x="439" y="85" width="1" height="16" fill="#DC143C"/>
<rect x="438" y="91" width="3" height="2" fill="#DC143C"/>
<rect x="443" y="89" width="1" height="21" fill="#DC143C"/>
<rect x="442" y="91" width="3" height="11" fill="#DC143C"/>
<rect x="447" y="87" width="1" height="15" fill="#008080"/>
<rect x="446" y="90" width="3" height="12" fill="#008080"/>
<rect x="451" y="87" width="1" height="15" fill="#DC143C"/>
<rect x="450" y="90" width="3" height="10" fill="#DC143C"/>
<rect x="455" y="79" width="1" height="22" fill="#008080"/>
<rect x="454" y="81" width="3" height="19" fill="#008080"/>
<rect x="459" y="73" width="1" height="21" fill="#DC143C"/>
<rect x="458" y="81" width="3" height="11" fill="#DC143C"/>
<rect x="463" y="89" width="1" height="31" fill="#DC143C"/>
<rect x="462" y="91" width="3" height="29" fill="#DC143C"/>
<rect x="467" y="111" width="1" height="18" fill="#008080"/>
<rect x="466" y="114" width="3" height="6" fill="#008080"/>
<rect x="471" y="111" width="1" height="14" fill="#DC143C"/>
<rect x="470" y="114" width="3" height="2" fill="#DC143C"/>
<rect x="475" y="104" width="1" height="19" fill="#008080"/>
<rect x="474" y="106" width="3" height="10" fill="#008080"/>
<rect x="479" y="101" width="1" height="17" fill="#DC143C"/>
<rect x="478" y="106" width="3" height="3" fill="#DC143C"/>
<rect x="483" y="98" width="1" height="16" fill="#008080"/>
<rect x="482" y="105" width="3" height="4" fill="#008080"/>
<rect x="487" y="94" width="1" height="13" fill="#008080"/>
<rect x="486" y="100" width="3" height="5" fill="#008080"/>
<rect x="491" y="85" width="1" height="30" fill="#008080"/>
<rect x="490" y="95" width="3" height="5" fill="#008080"/>
<rect x="495" y="82" width="1" height="16" fill="#008080"/>
<rect x="494" y="89" width="3" height="7" fill="#008080"/>
<rect x="499" y="84" width="1" height="46" fill="#DC143C"/>
<rect x="498" y="89" width="3" height="38" fill="#DC143C"/>
<rect x="503" y="117" width="1" height="28" fill="#008080"/>
<rect x="502" y="123" width="3" height="4" fill="#008080"/>
<rect x="507" y="114" width="1" height="11" fill="#008080"/>
<rect x="506" y="119" width="3" height="4" fill="#008080"/>
<rect x="511" y="109" width="1" height="21" fill="#008080"/>
<rect x="510" y="110" width="3" height="19" fill="#008080"/>
<rect x="515" y="103" width="1" height="11" fill="#DC143C"/>
<rect x="514" y="110" width="3" height="1" fill="#DC143C"/>
<rect x="519" y="109" width="1" height="21" fill="#DC143C"/>
<rect x="518" y="110" width="3" height="19" fill="#DC143C"/>
<rect x="523" y="124" width="1" height="12" fill="#DC143C"/>
<rect x="522" y="128" width="3" height="8" fill="#DC143C"/>
<rect x="527" y="127" width="1" height="12" fill="#008080"/>
<rect x="526" y="132" width="3" height="4" fill="#008080"/>
<rect x="531" y="127" width="1" height="9" fill="#008080"/>
<rect x="530" y="130" width="3" height="3" fill="#008080"/>
<rect x="535" y="124" width="1" height="11" fill="#008080"/>
<rect x="534" y="126" width="3" height="5" fill="#008080"/>
<rect x="539" y="110" width="1" height="20" fill="#008080"/>
<rect x="538" y="125" width="3" height="1" fill="#008080"/>
<rect x="543" y="116" width="1" height="13" fill="#008080"/>
<rect x="542" y="119" width="3" height="7" fill="#008080"/>
<rect x="547" y="108" width="1" height="15" fill="#DC143C"/>
<rect x="546" y="119" width="3" height="2" fill="#DC143C"/>
<rect x="551" y="118" width="1" height="30" fill="#DC143C"/>
<rect x="550" y="120" width="3" height="11" fill="#DC143C"/>
<rect x="555" y="126" width="1" height="7" fill="#008080"/>
<rect x="554" y="128" width="3" height="3" fill="#008080"/>
<rect x="559" y="127" width="1" height="36" fill="#DC143C"/>
<rect x="558" y="130" width="3" height="28" fill="#DC143C"/>
<rect x="563" y="154" width="1" height="16" fill="#DC143C"/>
<rect x="562" y="157" width="3" height="2" fill="#DC143C"/>
<rect x="567" y="148" width="1" height="12" fill="#008080"/>
<rect x="566" y="149" width="3" height="9" fill="#008080"/>
</g>
<g id="macd" clip-path="url(#c1)">
<rect x="2" y="416" width="3" height="9" fill="#008080"/>
<rect x="6" y="416" width="3" height="8" fill="#008080"/>
<rect x="10" y="416" width="3" height="8" fill="#008080"/>
<rect x="14" y="416" width="3" height="7" fill="#008080"/>
<rect x="18" y="416" width="3" height="7" fill="#008080"/>
<rect x="22" y="416" width="3" height="7" fill="#008080"/>
<rect x="26" y="416" width="3" height="6" fill="#008080"/>
<rect x="30" y="416" width="3" height="6" fill="#008080"/>
<rect x="34" y="416" width="3" height="5" fill="#008080"/>
<rect x="38" y="416" width="3" height="5" fill="#008080"/>
<rect x="42" y="416" width="3" height="4" fill="#008080"/>
<rect x="46" y="416" width="3" height="4" fill="#008080"/>
<rect x="50" y="416" width="3" height="3" fill="#008080"/>
<rect x="54" y="416" width="3" height="3" fill="#008080"/>
<rect x="58" y="416" width="3" height="2" fill="#008080"/>
<rect x="62" y="416" width="3" height="2" fill="#008080"/>
<rect x="66" y="416" width="3" height="1" fill="#008080"/>
<rect x="70" y="415" width="3" height="1" fill="#008080"/>
<rect x="74" y="414" width="3" height="2" fill="#008080"/>
<rect x="78" y="412" width="3" height="4" fill="#008080"/>
<rect x="82" y="411" width="3" height="5" fill="#008080"/>
<rect x="86" y="410" width="3" height="6" fill="#008080"/>
<rect x="90" y="408" width="3" height="8" fill="#008080"/>
<rect x="94" y="407" width="3" height="9" fill="#008080"/>
<rect x="98" y="406" width="3" height="10" fill="#008080"/>
<rect x="102" y="405" width="3" height="11" fill="#008080"/>
<rect x="106" y="405" width="3" height="11" fill="#008080"/>
<rect x="110" y="402" width="3" height="14" fill="#008080"/>
<rect x="114" y="400" width="3" height="16" fill="#008080"/>
<rect x="118" y="400" width="3" height="16" fill="#008080"/>
<rect x="122" y="400" width="3" height="16" fill="#008080"/>
<rect x="126" y="399" width="3" height="17" fill="#008080"/>
<rect x="130" y="399" width="3" height="17" fill="#008080"/>
<rect x="134" y="398" width="3" height="18" fill="#008080"/>
<rect x="138" y="394" width="3" height="22" fill="#008080"/>
<rect x="142" y="392" width="3" height="24" fill="#008080"/>
<rect x="146" y="390" width="3" height="26" fill="#008080"/>
<rect x="150" y="389" width="3" height="27" fill="#008080"/>
<rect x="154" y="390" width="3" height="26" fill="#008080"/>
<rect x="158" y="391" width="3" height="25" fill="#008080"/>
<rect x="162" y="391" width="3" height="25" fill="#008080"/>
<rect x="166" y="392" width="3" height="24" fill="#008080"/>
<rect x="170" y="395" width="3" height="21" fill="#008080"/>
<rect x="174" y="397" width="3" height="19" fill="#008080"/>
<rect x="178" y="394" width="3" height="22" fill="#008080"/>
<rect x="182" y="388" width="3" height="28" fill="#008080"/>
<rect x="186" y="385" width="3" height="31" fill="#008080"/>
<rect x="190" y="384" width="3" height="32" fill="#008080"/>
<rect x="194" y="384" width="3" height="32" fill="#008080"/>
<rect x="198" y="385" width="3" height="31" fill="#008080"/>
<rect x="202" y="384" width="3" height="32" fill="#008080"/>
<rect x="206" y="384" width="3" height="32" fill="#008080"/>
<rect x="210" y="385" width="3" height="31" fill="#008080"/>
<rect x="214" y="385" width="3" height="31" fill="#008080"/>
<rect x="218" y="386" width="3" height="30" fill="#008080"/>
<rect x="222" y="387" width="3" height="29" fill="#008080"/>
<rect x="226" y="388" width="3" height="28" fill="#008080"/>
<rect x="230" y="392" width="3" height="24" fill="#008080"/>
<rect x="234" y="394" width="3" height="22" fill="#008080"/>
<rect x="238" y="394" width="3" height="22" fill="#008080"/>
<rect x="242" y="394" width="3" height="22" fill="#008080"/>
<rect x="246" y="395" width="3" height="21" fill="#008080"/>
<rect x="250" y="399" width="3" height="17" fill="#008080"/>
<rect x="254" y="402" width="3" height="14" fill="#008080"/>
<rect x="258" y="403" width="3" height="13" fill="#008080"/>
<rect x="262" y="404" width="3" height="12" fill="#008080"/>
<rect x="266" y="405" width="3" height="11" fill="#008080"/>
<rect x="270" y="405" width="3" height="11" fill="#008080"/>
<rect x="274" y="406" width="3" height="10" fill="#008080"/>
<rect x="278" y="406" width="3" height="10" fill="#008080"/>
<rect x="282" y="406" width="3" height="10" fill="#008080"/>
<rect x="286" y="406" width="3" height="10" fill="#008080"/>
<rect x="290" y="406" width="3" height="10" fill="#008080"/>
<rect x="294" y="408" width="3" height="8" fill="#008080"/>
<rect x="298" y="408" width="3" height="8" fill="#008080"/>
<rect x="302" y="408" width="3" height="8" fill="#008080"/>
<rect x="306" y="408" width="3" height="8" fill="#008080"/>
<rect x="310" y="408" width="3" height="8" fill="#008080"/>
<rect x="314" y="408" width="3" height="8" fill="#008080"/>
<rect x="318" y="408" width="3" height="8" fill="#008080"/>
<rect x="322" y="411" width="3" height="5" fill="#008080"/>
<rect x="326" y="414" width="3" height="2" fill="#008080"/>
<rect x="330" y="414" width="3" height="2" fill="#008080"/>
<rect x="334" y="414" width="3" height="2" fill="#008080"/>
<rect x="338" y="410" width="3" height="6" fill="#008080"/>
<rect x="342" y="405" width="3" height="11" fill="#008080"/>
<rect x="346" y="399" width="3" height="17" fill="#008080"/>
<rect x="350" y="397" width="3" height="19" fill="#008080"/>
<rect x="354" y="399" width="3" height="17" fill="#008080"/>
<rect x="358" y="402" width="3" height="14" fill="#008080"/>
<rect x="362" y="404" width="3" height="12" fill="#008080"/>
<rect x="366" y="406" width="3" height="10" fill="#008080"/>
<rect x="370" y="408" width="3" height="8" fill="#008080"/>
<rect x="374" y="409" width="3" height="7" fill="#008080"/>
<rect x="378" y="408" width="3" height="8" fill="#008080"/>
<rect x="382" y="408" width="3" height="8" fill="#008080"/>
<rect x="386" y="408" width="3" height="8" fill="#008080"/>
<rect x="390" y="408" width="3" height="8" fill="#008080"/>
<rect x="394" y="409" width="3" height="7" fill="#008080"/>
<rect x="398" y="409" width="3" height="7" fill="#008080"/>
<rect x="402" y="410" width="3" height="6" fill="#008080"/>
<rect x="406" y="410" width="3" height="6" fill="#008080"/>
<rect x="410" y="410" width="3" height="6" fill="#008080"/>
<rect x="414" y="408" width="3" height="8" fill="#008080"/>
<rect x="418" y="406" width="3" height="10" fill="#008080"/>
<rect x="422" y="406" width="3" height="10" fill="#008080"/>
<rect x="426" y="409" width="3" height="7" fill="#008080"/>
<rect x="430" y="411" width="3" height="5" fill="#008080"/>
<rect x="434" y="412" width="3" height="4" fill="#008080"/>
<rect x="438" y="414" width="3" height="2" fill="#008080"/>
<rect x="442" y="415" width="3" height="1" fill="#008080"/>
<rect x="446" y="416" width="3" height="1" fill="#008080"/>
<rect x="450" y="416" width="3" height="2" fill="#008080"/>
<rect x="454" y="416" width="3" height="1" fill="#008080"/>
<rect x="458" y="416" width="3" height="2" fill="#008080"/>
<rect x="462" y="416" width="3" height="3" fill="#008080"/>
<rect x="466" y="416" width="3" height="5" fill="#008080"/>
<rect x="470" y="416" width="3" height="6" fill="#008080"/>
<rect x="474" y="416" width="3" height="6" fill="#008080"/>
<rect x="478" y="416" width="3" height="6" fill="#008080"/>
<rect x="482" y="416" width="3" height="5" fill="#008080"/>
<rect x="486" y="416" width="3" height="5" fill="#008080"/>
<rect x="490" y="416" width="3" height="4" fill="#008080"/>
<rect x="494" y="416" width="3" height="3" fill="#008080"/>
<rect x="498" y="416" width="3" height="5" fill="#008080"/>
<rect x="502" y="416" width="3" height="6" fill="#008080"/>
<rect x="506" y="416" width="3" height="7" fill="#008080"/>
<rect x="510" y="416" width="3" height="7" fill="#008080"/>
<rect x="514" y="416" width="3" height="6" fill="#008080"/>
<rect x="518" y="416" width="3" height="7" fill="#008080"/>
<rect x="522" y="416" width="3" height="8" fill="#008080"/>
<rect x="526" y="416" width="3" height="9" fill="#008080"/>
<rect x="530" y="416" width="3" height="9" fill="#008080"/>
<rect x="534" y="416" width="3" height="8" fill="#008080"/>
<rect x="538" y="416" width="3" height="8" fill="#008080"/>
<rect x="542" y="416" width="3" height="8" fill="#008080"/>
<rect x="546" y="416" width="3" height="7" fill="#008080"/>
<rect x="550" y="416" width="3" height="7" fill="#008080"/>
<rect x="554" y="416" width="3" height="7" fill="#008080"/>
<rect x="558" y="416" width="3" height="9" fill="#008080"/>
<rect x="562" y="416" width="3" height="11" fill="#008080"/>
<rect x="566" y="416" width="3" height="11" fill="#008080"/>
<line x1="3" y1="416.5" x2="712" y2="416.5" stroke="#808080" stroke-dasharray="3 3" stroke-dashoffset="5"/>
<polyline points="3.0,422.6 8.0,423.2 23.5,423.2 31.8,420.4 39.4,419.4 55.6,418.8 68.7,417.1 75.5,415.6 83.5,414.3 89.0,412.4 90.0,411.7 100.0,407.5 110.0,405.0 120.0,402.5 130.0,399.7 138.3,398.3 146.7,394.2 155.0,391.3 161.7,390.3 170.0,392.5 178.3,394.2 183.3,393.3 190.0,389.2 198.3,385.8 205.0,383.9 210.0,384.8 216.0,385.0 226.7,386.3 231.7,387.5 240.0,391.7 248.3,393.7 255.0,397.0 260.0,398.3 266.7,403.3 271.7,405.0 293.3,405.0 300.0,406.7 318.3,406.7 326.7,408.7 331.7,411.3 341.7,411.7 346.7,408.3 355.0,401.7 360.8,400.0 365.0,400.8 376.7,406.7 386.7,408.3 400.0,409.2 413.3,409.7 420.0,408.7 426.7,407.5 433.3,408.3 440.0,410.3 446.7,414.2 451.7,415.6 458.0,415.6 466.7,418.0 475.0,420.0 483.3,420.8 491.7,420.3 498.3,418.7 505.0,419.2 513.3,420.8 521.7,422.0 533.3,423.0 546.7,423.0 551.7,422.0 558.3,422.5 563.3,424.2 567.5,424.7" stroke="#DC143C" stroke-width="2" fill="none"/>
</g>
<g id="rsi" clip-path="url(#c2)">
<line x1="3" y1="448.5" x2="712" y2="448.5" stroke="#006400" stroke-dasharray="3 3" stroke-dashoffset="5"/>
<line x1="3" y1="470.5" x2="712" y2="470.5" stroke="#006400" stroke-dasharray="3 3" stroke-dashoffset="5"/>
<polyline points="3.3,465.8 8.3,465.8 13.3,462.5 16.7,461.7 20.8,461.3 25.0,460.0 35.8,460.0 39.2,461.7 44.2,461.7 48.3,460.0 58.3,457.5 62.5,455.8 67.5,458.0 73.3,453.3 79.2,450.0 83.3,449.7 86.7,450.8 90.8,446.7 95.0,447.5 105.0,447.0 111.7,443.0 135.0,443.0 139.2,438.7 143.3,440.8 150.0,441.3 155.0,444.7 164.2,445.0 167.5,449.2 170.8,450.0 174.2,452.0 176.7,450.0 180.0,444.2 188.3,443.7 190.8,444.7 201.7,445.0 205.0,445.8 208.3,445.8 212.5,443.7 222.5,443.7 226.7,447.5 230.8,453.0 233.3,452.5 238.3,449.2 244.2,449.7 247.5,453.3 250.8,457.5 255.0,457.5 258.3,455.8 261.7,456.7 275.0,456.7 279.2,453.0 283.3,453.0 287.5,456.7 290.8,456.7 293.3,457.5 296.0,457.5 299.2,455.8 302.5,456.7 306.7,455.0 310.8,455.0 315.0,457.5 318.3,458.0 322.5,461.3 326.7,461.3 330.8,460.3 334.2,459.2 338.3,450.8 343.3,449.7 347.5,447.5 350.8,451.7 355.0,454.2 358.3,456.3 365.8,456.7 370.8,457.0 372.5,458.0 379.2,458.0 380.8,456.7 384.2,455.8 387.5,455.8 391.7,459.7 395.8,457.0 399.2,456.7 400.8,458.0 405.0,458.0 410.0,455.0 415.8,452.0 420.0,452.0 423.3,456.7 426.7,458.7 431.7,459.2 438.3,459.7 441.7,461.7 445.0,461.7 446.7,460.8 451.7,460.8 455.0,459.2 457.5,459.2 460.0,460.8 463.3,464.2 466.7,464.2 470.0,463.0 475.0,462.0 482.5,461.7 485.0,460.8 490.0,459.7 494.2,457.5 496.7,458.3 499.2,464.2 506.7,464.2 511.7,460.8 515.0,460.8 520.0,465.0 526.7,465.0 530.0,464.2 536.7,463.0 540.8,462.0 545.0,460.8 547.5,461.3 550.0,463.0 555.8,463.0 559.2,469.2 563.3,469.2 567.5,466.7" stroke="#008080" stroke-width="2" fill="none"/>
</g>
<rect x="2.5" y="2.5" width="710" height="376" fill="none" stroke="#000" stroke-width="1"/>
<rect x="2.5" y="380.5" width="710" height="49" fill="none" stroke="#000" stroke-width="1"/>
<rect x="2.5" y="431.5" width="710" height="55" fill="none" stroke="#000" stroke-width="1"/>
<rect x="713" y="12" width="2" height="1" fill="#000"/>
<rect x="713" y="45" width="2" height="1" fill="#000"/>
<rect x="713" y="78" width="2" height="1" fill="#000"/>
<rect x="713" y="111" width="2" height="1" fill="#000"/>
<rect x="713" y="144" width="2" height="1" fill="#000"/>
<rect x="713" y="177" width="2" height="1" fill="#000"/>
<rect x="713" y="210" width="2" height="1" fill="#000"/>
<rect x="713" y="243" width="2" height="1" fill="#000"/>
<rect x="713" y="276" width="2" height="1" fill="#000"/>
<rect x="713" y="309" width="2" height="1" fill="#000"/>
<rect x="713" y="342" width="2" height="1" fill="#000"/>
<rect x="713" y="375" width="2" height="1" fill="#000"/>
<rect x="713" y="382" width="2" height="1" fill="#000"/>
<rect x="713" y="428" width="2" height="1" fill="#000"/>
<rect x="713" y="433" width="2" height="1" fill="#000"/>
<rect x="713" y="485" width="2" height="1" fill="#000"/>
<rect x="3" y="487" width="1" height="3" fill="#000"/>
<rect x="67" y="487" width="1" height="3" fill="#000"/>
<rect x="131" y="487" width="1" height="3" fill="#000"/>
<rect x="195" y="487" width="1" height="3" fill="#000"/>
<rect x="259" y="487" width="1" height="3" fill="#000"/>
<rect x="323" y="487" width="1" height="3" fill="#000"/>
<rect x="387" y="487" width="1" height="3" fill="#000"/>
<rect x="451" y="487" width="1" height="3" fill="#000"/>
<rect x="515" y="487" width="1" height="3" fill="#000"/>
<path d="M6 9h7l-3.5 4z" fill="#000"/>
<g font-family="'Liberation Sans', Arial, sans-serif" font-size="9.2px" fill="#000" stroke="#000" stroke-width="0.15" shape-rendering="auto" style="white-space:pre">
<text x="18.4" y="14" textLength="55.6" lengthAdjust="spacingAndGlyphs">AUDUSD,H4</text>
<text x="79.8" y="14">0.78714</text>
<text x="115.6" y="14">0.78843</text>
<text x="152.5" y="14">0.78688</text>
<text x="187.8" y="14">0.78828</text>
<text x="6.8" y="393" textLength="61.4" lengthAdjust="spacingAndGlyphs">MACD(5,35,5)</text>
<text x="70.6" y="393">-0.003818</text>
<text x="115.1" y="393">-0.002851</text>
<text x="7" y="444" textLength="32.9" lengthAdjust="spacingAndGlyphs">RSI(14)</text>
<text x="42.2" y="444">36.7326</text>
<text x="718" y="16">0.80780</text>
<text x="718" y="49">0.80310</text>
<text x="718" y="82">0.79840</text>
<text x="718" y="115">0.79370</text>
<text x="718" y="148">0.78900</text>
<text x="718" y="181">0.78430</text>
<text x="718" y="214">0.77970</text>
<text x="718" y="247">0.77500</text>
<text x="718" y="280">0.77030</text>
<text x="718" y="313">0.76560</text>
<text x="718" y="346">0.76090</text>
<text x="718" y="379">0.75620</text>
<rect x="714" y="144" width="41" height="11" fill="#000"/>
<text x="718" y="153" fill="#fff" stroke="#fff">0.78828</text>
<text x="716.3" y="391" textLength="37.6" lengthAdjust="spacingAndGlyphs">0.013463</text>
<text x="716.3" y="420">0.00</text>
<text x="716.8" y="420">0</text>
<text x="716.5" y="426">-0.004641</text>
<text x="715.4" y="442">100</text>
<text x="715.2" y="452">70</text>
<text x="715.2" y="474">30</text>
<text x="715.6" y="482">0</text>
<text x="2.2" y="499">6 Jul 2017</text>
<text x="66.2" y="499">11 Jul 12:00</text>
<text x="130.2" y="499">14 Jul 04:00</text>
<text x="194.2" y="499">18 Jul 20:00</text>
<text x="258.2" y="499">21 Jul 12:00</text>
<text x="322.2" y="499">26 Jul 04:00</text>
<text x="386.2" y="499">28 Jul 20:00</text>
<text x="450.2" y="499" word-spacing="0.9">2 Aug 12:00</text>
<text x="514.2" y="499" word-spacing="0.9">7 Aug 04:00</text>
</g>
</svg>
</body></html>
